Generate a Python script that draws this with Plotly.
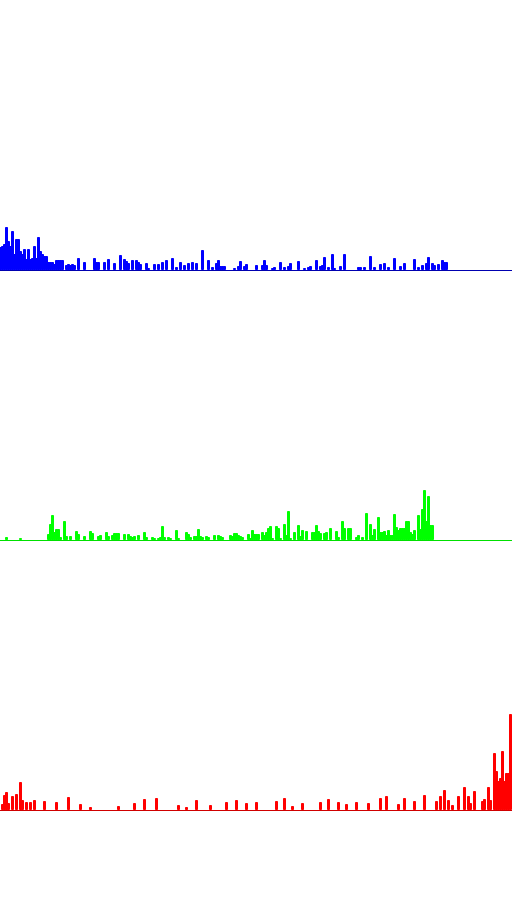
import plotly.graph_objects as go
from plotly.subplots import make_subplots

bins = list(range(256))

blue_values = [
    22, 23, 25, 42, 28, 23, 38, 15, 30, 30, 18, 15, 20, 10, 20, 10,
    11, 23, 11, 32, 18, 15, 13, 13, 7, 7, 7, 5, 9, 9, 9, 9,
    0, 4, 5, 4, 5, 4, 0, 11, 0, 0, 7, 0, 0, 0, 0, 11,
    7, 7, 0, 0, 7, 0, 10, 0, 0, 6, 0, 0, 14, 0, 10, 8,
    6, 0, 9, 0, 9, 7, 5, 0, 0, 6, 1, 0, 0, 5, 0, 5,
    0, 7, 0, 9, 0, 0, 11, 0, 2, 0, 7, 0, 4, 0, 6, 0,
    7, 0, 6, 0, 0, 19, 0, 0, 9, 0, 2, 0, 6, 9, 3, 3,
    3, 0, 0, 0, 0, 1, 0, 3, 8, 0, 3, 5, 0, 0, 0, 0,
    4, 0, 0, 4, 9, 4, 0, 0, 1, 2, 0, 0, 7, 0, 2, 0,
    3, 6, 0, 0, 0, 8, 0, 0, 1, 0, 2, 3, 0, 0, 9, 0,
    3, 4, 12, 0, 2, 0, 15, 1, 0, 0, 3, 0, 15, 0, 0, 0,
    0, 0, 0, 2, 2, 0, 2, 0, 0, 13, 0, 2, 0, 0, 5, 0,
    6, 0, 2, 0, 0, 11, 0, 0, 3, 0, 6, 0, 0, 0, 0, 10,
    0, 2, 0, 4, 0, 6, 12, 0, 6, 4, 0, 5, 0, 9, 7, 7,
    0, 0, 0, 0, 0, 0, 0, 0, 0, 0, 0, 0, 0, 0, 0, 0,
    0, 0, 0, 0, 0, 0, 0, 0, 0, 0, 0, 0, 0, 0, 0, 0,
]

green_values = [
    0, 0, 0, 2, 0, 0, 0, 0, 0, 0, 1, 0, 0, 0, 0, 0,
    0, 0, 0, 0, 0, 0, 0, 0, 5, 15, 24, 7, 10, 10, 2, 0,
    18, 3, 0, 3, 0, 0, 8, 5, 0, 0, 3, 0, 0, 8, 6, 0,
    0, 3, 4, 0, 0, 7, 3, 0, 4, 6, 6, 6, 0, 0, 5, 0,
    5, 3, 2, 3, 0, 4, 0, 0, 7, 2, 0, 0, 2, 1, 0, 1,
    2, 13, 2, 0, 2, 1, 0, 0, 9, 1, 0, 0, 0, 7, 5, 2,
    0, 3, 3, 10, 3, 2, 0, 3, 2, 0, 0, 4, 0, 4, 3, 2,
    0, 0, 0, 4, 3, 6, 6, 4, 3, 2, 0, 0, 5, 1, 9, 5,
    5, 5, 0, 7, 4, 7, 11, 13, 1, 0, 13, 11, 1, 0, 15, 4,
    28, 1, 0, 7, 0, 14, 3, 9, 0, 8, 0, 0, 7, 7, 14, 8,
    6, 0, 6, 7, 0, 11, 0, 0, 8, 2, 0, 18, 11, 0, 11, 11,
    0, 0, 2, 4, 0, 2, 0, 26, 0, 15, 4, 10, 0, 22, 7, 7,
    8, 4, 9, 4, 4, 25, 12, 9, 11, 11, 11, 18, 18, 7, 5, 9,
    0, 24, 10, 30, 49, 18, 43, 14, 14, 0, 0, 0, 0, 0, 0, 0,
    0, 0, 0, 0, 0, 0, 0, 0, 0, 0, 0, 0, 0, 0, 0, 0,
    0, 0, 0, 0, 0, 0, 0, 0, 0, 0, 0, 0, 0, 0, 0, 0,
]

red_values = [
    0, 5, 14, 17, 6, 0, 13, 0, 15, 0, 27, 9, 0, 7, 0, 7,
    0, 9, 0, 0, 0, 0, 8, 0, 0, 0, 0, 0, 7, 0, 0, 0,
    0, 0, 12, 0, 0, 0, 0, 0, 5, 0, 0, 0, 0, 2, 0, 0,
    0, 0, 0, 0, 0, 0, 0, 0, 0, 0, 0, 3, 0, 0, 0, 0,
    0, 0, 0, 6, 0, 0, 0, 0, 10, 0, 0, 0, 0, 0, 11, 0,
    0, 0, 0, 0, 0, 0, 0, 0, 0, 4, 0, 0, 0, 2, 0, 0,
    0, 0, 9, 0, 0, 0, 0, 0, 0, 4, 0, 0, 0, 0, 0, 0,
    0, 7, 0, 0, 0, 0, 9, 0, 0, 0, 0, 6, 0, 0, 0, 0,
    7, 0, 0, 0, 0, 0, 0, 0, 0, 0, 8, 0, 0, 0, 11, 0,
    0, 0, 3, 0, 0, 0, 0, 6, 0, 0, 0, 0, 0, 0, 0, 0,
    7, 0, 0, 0, 10, 0, 0, 0, 0, 7, 0, 0, 0, 5, 0, 0,
    0, 0, 7, 0, 0, 0, 0, 0, 6, 0, 0, 0, 0, 0, 11, 0,
    0, 13, 0, 0, 0, 0, 0, 5, 0, 0, 11, 0, 0, 0, 0, 8,
    0, 0, 0, 0, 14, 0, 0, 0, 0, 0, 8, 0, 13, 0, 19, 0,
    9, 0, 4, 0, 0, 13, 0, 0, 22, 0, 13, 6, 0, 18, 0, 0,
    0, 8, 10, 0, 22, 9, 0, 56, 38, 28, 31, 58, 28, 36, 36, 95,
]

series = [
    ("blue", blue_values, "#0000ff", "#0000b0"),
    ("green", green_values, "#00ff00", "#00e000"),
    ("red", red_values, "#ff0000", "#d00000"),
]

fig = make_subplots(rows=3, cols=1, shared_xaxes=False, vertical_spacing=0)

domains = [[0.7, 1.0], [0.4, 0.7], [0.1, 0.4]]
for i, (name, vals, col, linecol) in enumerate(series, start=1):
    yvals = [v if v else None for v in vals]
    fig.add_trace(
        go.Bar(x=bins, y=yvals, width=1.0,
               marker=dict(color=col, line=dict(width=1, color=col)),
               name=name, showlegend=False),
        row=i, col=1,
    )
    xa = "xaxis" if i == 1 else f"xaxis{i}"
    ya = "yaxis" if i == 1 else f"yaxis{i}"
    fig.layout[xa].update(range=[-0.5, 255.5], showgrid=False, zeroline=False,
                          showticklabels=False, ticks="", showline=True,
                          linecolor=linecol, linewidth=1)
    fig.layout[ya].update(range=[0, 270], domain=domains[i - 1], showgrid=False,
                          zeroline=False, showticklabels=False, ticks="",
                          showline=False)

fig.update_layout(
    width=512, height=900,
    margin=dict(l=0, r=0, t=0, b=0),
    paper_bgcolor="white", plot_bgcolor="white",
    bargap=0,
)

fig.write_html("out.html")
